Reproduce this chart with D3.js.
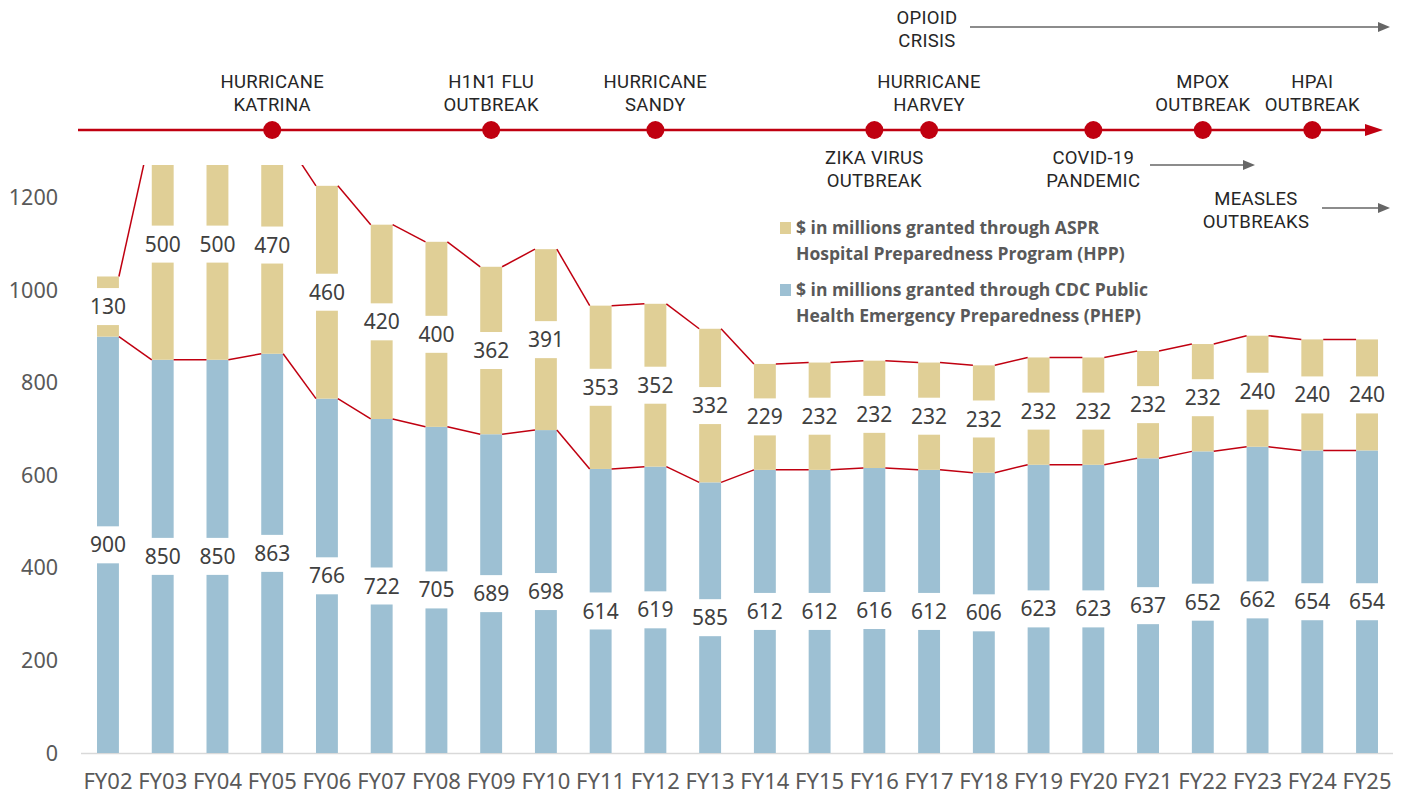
<!DOCTYPE html>
<html><head><meta charset="utf-8">
<script src="https://cdn.jsdelivr.net/npm/d3@7"></script>
<style>html,body{margin:0;padding:0;background:#fff;}</style>
</head><body>
<svg id="chart" width="1403" height="792"></svg>
<script>
const years = ["FY02","FY03","FY04","FY05","FY06","FY07","FY08","FY09","FY10","FY11","FY12","FY13","FY14","FY15","FY16","FY17","FY18","FY19","FY20","FY21","FY22","FY23","FY24","FY25"];
const phep = [900,850,850,863,766,722,705,689,698,614,619,585,612,612,616,612,606,623,623,637,652,662,654,654];
const hpp  = [130,500,500,470,460,420,400,362,391,353,352,332,229,232,232,232,232,232,232,232,232,240,240,240];
const yTicks = [0,200,400,600,800,1000,1200];
const eventsAbove = [
  {year:"FY05", lines:["HURRICANE","KATRINA"]},
  {year:"FY09", lines:["H1N1 FLU","OUTBREAK"]},
  {year:"FY12", lines:["HURRICANE","SANDY"]},
  {year:"FY17", lines:["HURRICANE","HARVEY"]},
  {year:"FY22", lines:["MPOX","OUTBREAK"]},
  {year:"FY24", lines:["HPAI","OUTBREAK"]}
];
const eventsBelow = [
  {year:"FY16", lines:["ZIKA VIRUS","OUTBREAK"]},
  {year:"FY20", lines:["COVID-19","PANDEMIC"]}
];
const ongoing = [
  {lines:["OPIOID","CRISIS"], cx:927, y:18, x1:970, x2:1390},
  {lines:[], cx:null, y:165, x1:1150, x2:1255, noText:true},
  {lines:["MEASLES","OUTBREAKS"], cx:1256, y:199, x1:1322, x2:1390}
];
const legendItems = [
  {lines:["$ in millions granted through ASPR","Hospital Preparedness Program (HPP)"], color:"#E0CF96"},
  {lines:["$ in millions granted through CDC Public","Health Emergency Preparedness (PHEP)"], color:"#9DC0D3"}
];

const svg = d3.select("#chart");
const RED = "#C00010", TAN = "#E0CF96", BLUE = "#9DC0D3";
const x = d3.scaleBand().domain(years).range([80.6,1394.4]).paddingInner(0.6).paddingOuter(0.3);
const y = d3.scaleLinear().domain([0,1271]).range([753,165]);
const bw = x.bandwidth();

svg.append("defs").append("clipPath").attr("id","plot").append("rect")
  .attr("x",0).attr("y",165).attr("width",1403).attr("height",600);

svg.append("g").selectAll("text").data(yTicks).join("text")
  .attr("x",58).attr("y",d=>y(d)).attr("dy","0.35em").attr("text-anchor","end")
  .attr("font-family","Noto Sans").attr("font-size",21.5).attr("fill","#595959").text(d=>d);

svg.append("line").attr("x1",81).attr("x2",1393).attr("y1",y(0)+0.5).attr("y2",y(0)+0.5)
  .attr("stroke","#D9D9D9").attr("stroke-width",1.5);

svg.append("g").selectAll("text").data(years).join("text")
  .attr("x",d=>x(d)+bw/2).attr("y",781).attr("dy","0.35em").attr("text-anchor","middle")
  .attr("font-family","Noto Sans").attr("font-size",22).attr("fill","#595959").text(d=>d);

const data = years.map((yr,i)=>({yr, p:phep[i], h:hpp[i], t:phep[i]+hpp[i]}));
const plot = svg.append("g").attr("clip-path","url(#plot)");

plot.selectAll("rect.p").data(data).join("rect").attr("class","p")
  .attr("x",d=>x(d.yr)).attr("width",bw).attr("y",d=>y(d.p)).attr("height",d=>y(0)-y(d.p)).attr("fill",BLUE);
plot.selectAll("rect.h").data(data).join("rect").attr("class","h")
  .attr("x",d=>x(d.yr)).attr("width",bw).attr("y",d=>y(d.t)).attr("height",d=>y(d.p)-y(d.t)).attr("fill",TAN);

const segs = [];
for(let i=0;i<data.length-1;i++){
  segs.push({x1:x(data[i].yr)+bw, x2:x(data[i+1].yr), v1:data[i].p, v2:data[i+1].p});
  segs.push({x1:x(data[i].yr)+bw, x2:x(data[i+1].yr), v1:data[i].t, v2:data[i+1].t});
}
plot.selectAll("line.s").data(segs).join("line").attr("class","s")
  .attr("x1",d=>d.x1).attr("x2",d=>d.x2).attr("y1",d=>y(d.v1)).attr("y2",d=>y(d.v2))
  .attr("stroke",RED).attr("stroke-width",1.5);

function labels(valFn, midFn){
  const g = plot.append("g");
  g.selectAll("rect").data(data).join("rect")
    .attr("x",d=>x(d.yr)-1).attr("width",bw+2).attr("y",d=>y(midFn(d))-18.5).attr("height",37).attr("fill","#fff");
  g.selectAll("text").data(data).join("text")
    .attr("x",d=>x(d.yr)+bw/2).attr("y",d=>y(midFn(d))).attr("dy","0.36em").attr("text-anchor","middle")
    .attr("font-family","Noto Sans").attr("font-size",21).attr("fill","#404040").text(valFn);
}
labels(d=>d.p, d=>d.p/2);
labels(d=>d.h, d=>d.p+d.h/2);

const TY = 130;
svg.append("line").attr("x1",78).attr("x2",1372).attr("y1",TY).attr("y2",TY).attr("stroke",RED).attr("stroke-width",2.5);
svg.append("path").attr("d",`M1383,${TY} L1365,${TY-6} L1365,${TY+6} Z`).attr("fill",RED);
const tfont = {family:"Roboto", size:18.5, fill:"#262626"};
const allEvents = eventsAbove.map(e=>({...e,pos:"a"})).concat(eventsBelow.map(e=>({...e,pos:"b"})));
svg.selectAll("circle.ev").data(allEvents).join("circle").attr("class","ev")
  .attr("cx",d=>x(d.year)+bw/2).attr("cy",TY).attr("r",9).attr("fill",RED);
function ttext(xp, yp, t){
  svg.append("text").attr("x",xp).attr("y",yp).attr("dy","0.35em").attr("text-anchor","middle")
    .attr("font-family",tfont.family).attr("font-size",tfont.size).attr("fill",tfont.fill)
    .attr("letter-spacing",0.3).text(t);
}
allEvents.forEach(e=>{
  const cx = x(e.year)+bw/2;
  const ys = e.pos==="a" ? [82,105] : [158,181];
  e.lines.forEach((t,k)=>ttext(cx, ys[k], t));
});
ongoing.forEach(o=>{
  o.lines.forEach((t,k)=>ttext(o.cx, o.y+k*23, t));
  const ay = o.noText ? o.y : o.y+9;
  svg.append("line").attr("x1",o.x1).attr("x2",o.x2-8).attr("y1",ay).attr("y2",ay).attr("stroke","#666").attr("stroke-width",1.3);
  svg.append("path").attr("d",`M${o.x2},${ay} L${o.x2-12},${ay-5} L${o.x2-12},${ay+5} Z`).attr("fill","#666");
});

legendItems.forEach((l,i)=>{
  const ly = 228 + i*62;
  svg.append("rect").attr("x",780).attr("y",ly-6).attr("width",11).attr("height",12).attr("fill",l.color);
  l.lines.forEach((t,k)=>{
    svg.append("text").attr("x",796).attr("y",ly+k*26).attr("dy","0.35em")
      .attr("font-family","Open Sans").attr("font-weight",700).attr("font-size",17.5).attr("fill","#595959").text(t);
  });
});
</script>
</body></html>
